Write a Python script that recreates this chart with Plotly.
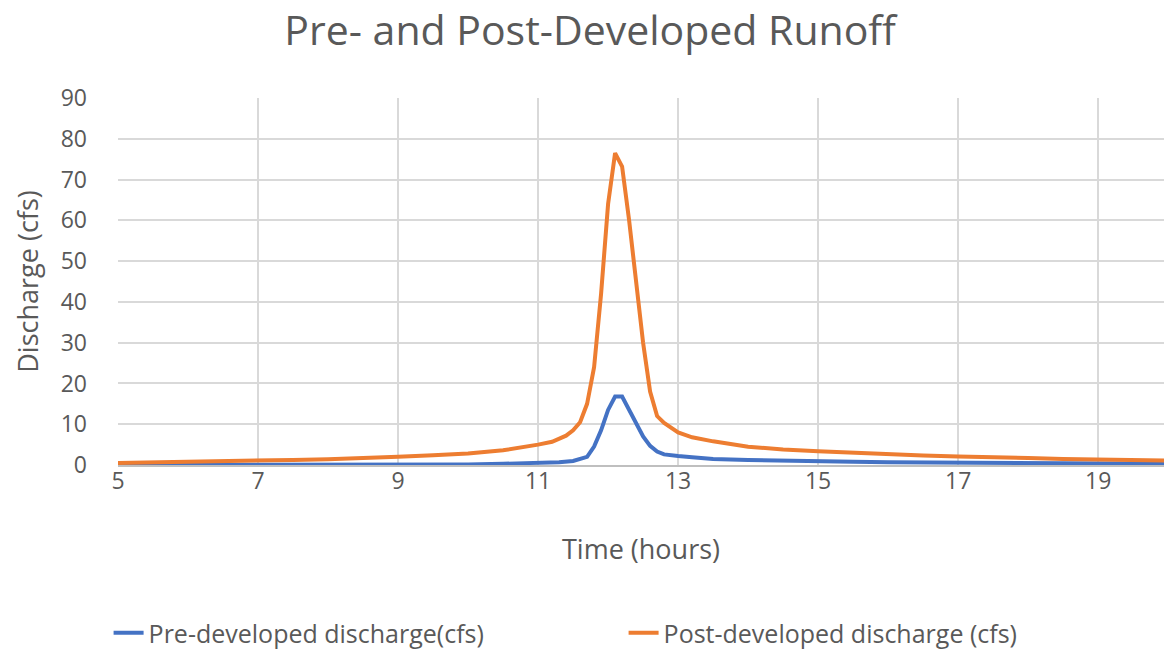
import plotly.graph_objects as go

# Time (hours)
time_post = [5.0, 5.5, 6.0, 6.5, 7.0, 7.5, 8.0, 8.5, 9.0, 9.5, 10.0, 10.5, 10.8,
             11.0, 11.2, 11.4, 11.5, 11.6, 11.7, 11.8, 11.9, 12.0, 12.1, 12.2,
             12.3, 12.4, 12.5, 12.6, 12.7, 12.8, 12.9, 13.0, 13.2, 13.5, 14.0,
             14.5, 15.0, 15.5, 16.0, 16.5, 17.0, 17.5, 18.0, 18.5, 19.0, 19.5, 20.0]
post_q = [0.5, 0.7, 0.9, 1.0, 1.1, 1.25, 1.4, 1.65, 2.0, 2.4, 2.8, 3.6, 4.3,
          5.0, 5.7, 7.2, 8.5, 10.5, 15.0, 24.0, 42.0, 64.0, 76.5, 73.2,
          60.0, 45.0, 30.0, 18.0, 12.0, 10.3, 9.0, 8.0, 6.8, 5.8, 4.5,
          3.8, 3.4, 3.0, 2.6, 2.3, 2.1, 2.0, 1.7, 1.5, 1.4, 1.2, 1.1]

time_pre = [5.0, 6.0, 7.0, 8.0, 9.0, 10.0, 10.5, 11.0, 11.3, 11.5, 11.6, 11.7,
            11.8, 11.9, 12.0, 12.1, 12.2, 12.3, 12.4, 12.5, 12.6, 12.7, 12.8,
            12.9, 13.0, 13.2, 13.5, 14.0, 14.5, 15.0, 15.5, 16.0, 17.0, 17.5,
            18.0, 19.0, 20.0]
pre_q = [0.0, 0.0, 0.05, 0.05, 0.1, 0.1, 0.3, 0.4, 0.7, 1.0, 1.4, 2.0,
         4.5, 8.5, 13.5, 16.8, 16.8, 13.5, 10.0, 7.0, 4.7, 3.3, 2.6,
         2.3, 2.2, 1.9, 1.5, 1.2, 1.0, 0.9, 0.8, 0.7, 0.6, 0.4,
         0.3, 0.3, 0.3]

x_ticks = [5, 7, 9, 11, 13, 15, 17, 19]
y_ticks = [0, 10, 20, 30, 40, 50, 60, 70, 80, 90]

grey = "#595959"
font_family = "Open Sans, Lato, sans-serif"

fig = go.Figure()
fig.add_trace(go.Scatter(x=time_pre, y=pre_q, mode="lines",
                         name="Pre-developed discharge(cfs)",
                         line=dict(color="#4472C4", width=4)))
fig.add_trace(go.Scatter(x=time_post, y=post_q, mode="lines",
                         name="Post-developed discharge (cfs)",
                         line=dict(color="#ED7D31", width=4)))

fig.update_layout(
    width=1164, height=656,
    margin=dict(l=118, r=0, t=98, b=191),
    paper_bgcolor="white", plot_bgcolor="white",
    font=dict(family=font_family, color=grey),
    title=dict(text="Pre- and Post-Developed Runoff",
               font=dict(size=41, color=grey, family=font_family),
               x=0.507, xanchor="center", y=0.953, yanchor="middle"),
    showlegend=True,
    legend=dict(orientation="h", x=-0.009, xanchor="left",
                y=-0.458, yanchor="middle",
                font=dict(size=25, color=grey),
                entrywidth=470, entrywidthmode="pixels",
                tracegroupgap=0),
    xaxis=dict(range=[5, 19.94], tickvals=x_ticks, ticktext=[str(v) for v in x_ticks],
               showgrid=True, gridcolor="#D9D9D9", gridwidth=1.5,
               zeroline=False, showline=True, linecolor="#BFBFBF", linewidth=1.5,
               tickfont=dict(size=23, color=grey), ticks="",
               ticklabelstandoff=-5,
               title=dict(text="Time (hours)", font=dict(size=27, color=grey),
                          standoff=45)),
    yaxis=dict(range=[0, 90], tickvals=y_ticks,
               showgrid=True, gridcolor="#D9D9D9", gridwidth=1.5,
               zeroline=False, showline=False,
               tickfont=dict(size=23, color=grey), ticks="",
               ticklabelstandoff=30,
               title=dict(text="Discharge (cfs)", font=dict(size=27, color=grey),
                          standoff=14)),
)

fig.write_html("out.html")
